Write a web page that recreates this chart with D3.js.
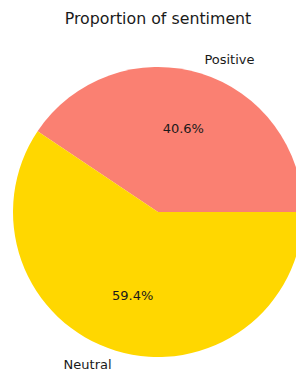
<!DOCTYPE html>
<html>
<head>
<meta charset="utf-8">
<script src="https://cdn.jsdelivr.net/npm/d3@7"></script>
<style>
  body { margin: 0; background: #fff; }
  svg { display: block; }
  text { font-family: "DejaVu Sans", sans-serif; fill: #1a1a1a; }
</style>
</head>
<body>
<svg id="chart" width="296" height="376"></svg>
<script>
// data
const labels = ["Positive", "Neutral"];
const shares = [40.6, 59.4];
const colors = ["#FA8072", "#FFD700"];
const title = "Proportion of sentiment";

const svg = d3.select("#chart");
const cx = 158, cy = 212, R = 145;

// matplotlib style: start at 3 o'clock, go counter-clockwise
const pie = d3.pie()
  .sort(null)
  .startAngle(Math.PI / 2)
  .endAngle(Math.PI / 2 - 2 * Math.PI)
  .value(d => d);

const arcs = pie(shares);
const arc = d3.arc().innerRadius(0).outerRadius(R);

const g = svg.append("g").attr("transform", `translate(${cx},${cy})`);

g.selectAll("path")
  .data(arcs)
  .enter()
  .append("path")
  .attr("d", arc)
  .attr("fill", (d, i) => colors[i]);

// position at a given fraction of the radius, mid angle of slice
function at(d, f) {
  const a = (d.startAngle + d.endAngle) / 2;
  return [Math.sin(a) * R * f, -Math.cos(a) * R * f];
}

// category labels
g.selectAll(".lab")
  .data(arcs)
  .enter()
  .append("text")
  .attr("class", "lab")
  .attr("x", d => at(d, 1.1)[0])
  .attr("y", d => at(d, 1.1)[1])
  .attr("dy", "0.35em")
  .attr("text-anchor", d => at(d, 1.1)[0] > 0 ? "start" : "end")
  .style("font-size", "13px")
  .text((d, i) => labels[i]);

// percentages
g.selectAll(".pct")
  .data(arcs)
  .enter()
  .append("text")
  .attr("class", "pct")
  .attr("x", d => at(d, 0.6)[0])
  .attr("y", d => at(d, 0.6)[1])
  .attr("dy", "0.35em")
  .attr("text-anchor", "middle")
  .style("font-size", "13px")
  .text(d => d.data.toFixed(1) + "%");

// title
svg.append("text")
  .attr("x", cx)
  .attr("y", 24)
  .attr("text-anchor", "middle")
  .style("font-size", "15.8px")
  .text(title);
</script>
</body>
</html>
